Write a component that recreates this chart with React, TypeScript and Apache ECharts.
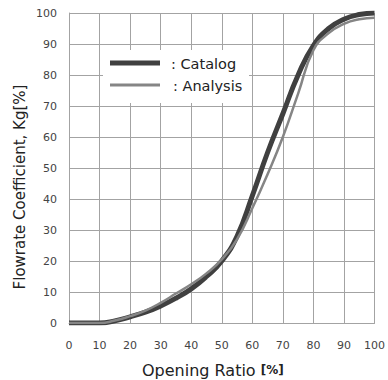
import React, { useEffect, useRef } from "react";
import * as echarts from "echarts";

const openingRatio = [0, 5, 10, 15, 20, 25, 30, 35, 40, 45, 50, 55, 60, 65, 70, 75, 80, 85, 90, 95, 100];
const catalog = [0, 0, 0, 0.7, 2, 3.5, 5.5, 8, 11, 15, 20, 28, 41, 55, 67.5, 80, 89.5, 95, 98, 99.5, 100];
const analysis = [0, 0, 0, 0.8, 2.2, 4, 6.5, 9.5, 12.5, 16, 20.5, 27, 37, 48, 60, 74, 88, 93.5, 96.5, 98, 98.5];
const legendNames = ["Catalog", "Analysis"];
const xTitle = "Opening Ratio";
const unit = "[%]";
const yTitle = "Flowrate Coefficient, Kg[%]";

export default function App() {
  const ref = useRef<HTMLDivElement>(null);
  useEffect(() => {
    if (!ref.current) return;
    const chart = echarts.init(ref.current, null, { renderer: "svg" });
    const font = "DejaVu Sans";
    const gridColor = "#a3a3a3";
    const axisCommon = {
      type: "value" as const,
      min: 0,
      max: 100,
      interval: 10,
      axisTick: { show: false },
      axisLine: { show: true, lineStyle: { color: gridColor, width: 1 } },
      splitLine: { show: true, lineStyle: { color: gridColor, width: 1 } },
      axisLabel: { fontFamily: font, fontSize: 11, color: "#444" },
    };
    chart.setOption({
      animation: false,
      backgroundColor: "#fff",
      grid: { left: 69, right: 8, top: 13, bottom: 57 },
      xAxis: { ...axisCommon, axisLabel: { ...axisCommon.axisLabel, margin: 17 } },
      yAxis: { ...axisCommon, axisLabel: { ...axisCommon.axisLabel, margin: 12 } },
      series: [
        {
          name: legendNames[0],
          type: "line",
          data: openingRatio.map((x, i) => [x, catalog[i]]),
          smooth: true,
          showSymbol: false,
          lineStyle: { color: "#404040", width: 5 },
          z: 2,
        },
        {
          name: legendNames[1],
          type: "line",
          data: openingRatio.map((x, i) => [x, analysis[i]]),
          smooth: true,
          showSymbol: false,
          lineStyle: { color: "#858585", width: 2.5 },
          z: 3,
        },
      ],
      graphic: [
        { type: "rect", shape: { x: 103, y: 50, width: 146, height: 53 }, style: { fill: "#fff" }, z: 10 },
        { type: "line", shape: { x1: 110, y1: 63, x2: 160, y2: 63 }, style: { stroke: "#404040", lineWidth: 5 }, z: 11 },
        { type: "line", shape: { x1: 110, y1: 85, x2: 160, y2: 85 }, style: { stroke: "#858585", lineWidth: 3 }, z: 11 },
        {
          type: "text", x: 171, y: 64, z: 11,
          style: { text: ": " + legendNames[0], fontFamily: font, fontSize: 14.5, fill: "#222", verticalAlign: "middle" },
        },
        {
          type: "text", x: 173, y: 86, z: 11,
          style: { text: ": " + legendNames[1], fontFamily: font, fontSize: 14.5, fill: "#222", verticalAlign: "middle" },
        },
        {
          type: "text", x: 142, y: 370, z: 11,
          style: {
            text: "{a|" + xTitle + " }{b|" + unit + "}",
            verticalAlign: "middle",
            rich: {
              a: { fontFamily: font, fontSize: 16, fill: "#222" },
              b: { fontFamily: font, fontSize: 12, fontWeight: "bold", fill: "#222" },
            },
          },
        },
        {
          type: "text", x: 20, y: 187, rotation: Math.PI / 2, z: 11,
          style: { text: yTitle, fontFamily: font, fontSize: 15, fill: "#222", align: "center", verticalAlign: "middle" },
        },
      ],
    });
    return () => chart.dispose();
  }, []);
  return <div ref={ref} style={{ position: "fixed", left: 0, top: 0, width: 388, height: 380 }} />;
}
